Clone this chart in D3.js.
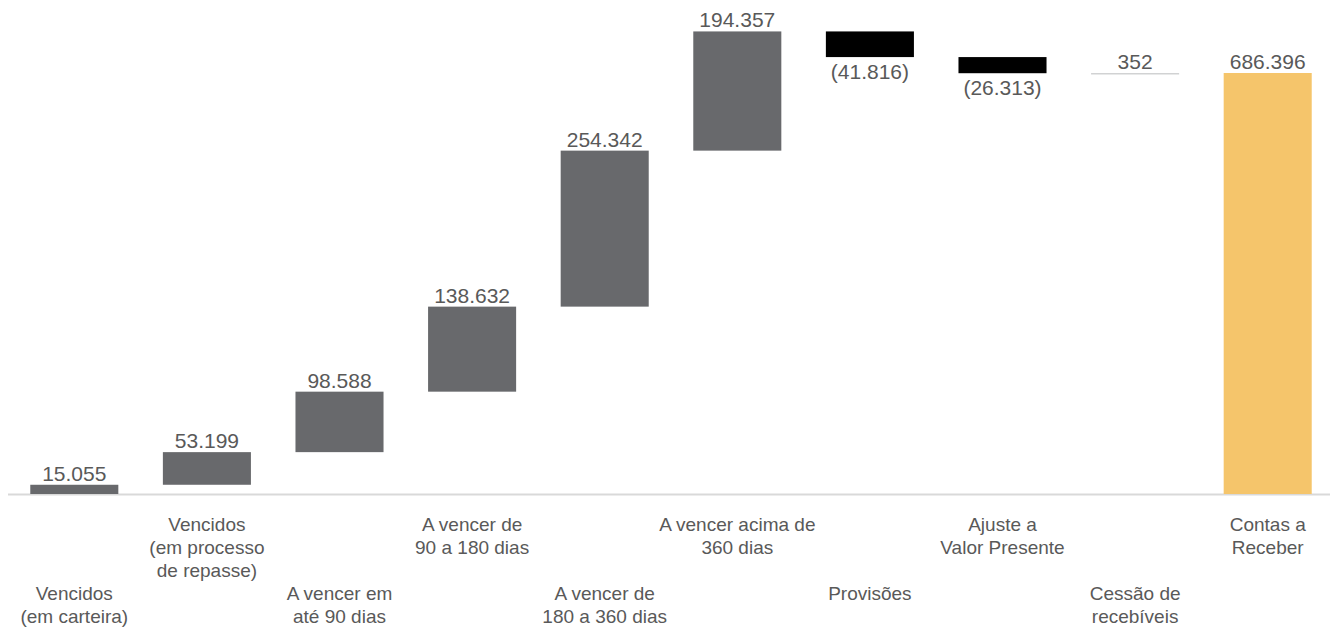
<!DOCTYPE html>
<html>
<head>
<meta charset="utf-8">
<script src="https://cdn.jsdelivr.net/npm/d3@7"></script>
<style>
  body { margin: 0; background: white; }
  text { font-family: "Liberation Sans", Arial, sans-serif; fill: #595959; }
</style>
</head>
<body>
<script>
var categories = [
  ["Vencidos", "(em carteira)"],
  ["Vencidos", "(em processo", "de repasse)"],
  ["A vencer em", "até 90 dias"],
  ["A vencer de", "90 a 180 dias"],
  ["A vencer de", "180 a 360 dias"],
  ["A vencer acima de", "360 dias"],
  ["Provisões"],
  ["Ajuste a", "Valor Presente"],
  ["Cessão de", "recebíveis"],
  ["Contas a", "Receber"]
];
var values = [15055, 53199, 98588, 138632, 254342, 194357, -41816, -26313, 352, 686396];
var valueLabels = ["15.055", "53.199", "98.588", "138.632", "254.342", "194.357", "(41.816)", "(26.313)", "352", "686.396"];
var isTotal = [false, false, false, false, false, false, false, false, false, true];

var width = 1334,
    height = 628,
    baseY = 494;

var svg = d3.select("body").append("svg")
  .attr("width", width)
  .attr("height", height);

// running totals for the waterfall
var running = 0;
var steps = values.map(function(v, i) {
  var start, end;
  if (isTotal[i]) { start = 0; end = v; running = v; }
  else { start = running; end = running + v; running = end; }
  return { i: i, v: v, y0: Math.min(start, end), y1: Math.max(start, end) };
});

var x = d3.scaleBand()
  .domain(d3.range(values.length))
  .range([8, 1334])
  .paddingInner(0.336)
  .paddingOuter(0.168);

var y = d3.scaleLinear()
  .domain([0, 686396])
  .range([baseY, 73]);

// axis line
svg.append("line")
  .attr("x1", 8).attr("x2", 1330)
  .attr("y1", baseY + 0.5).attr("y2", baseY + 0.5)
  .style("stroke", "#d9d9d9")
  .style("stroke-width", 2);

function barColor(d) {
  if (isTotal[d.i]) return "#f5c56b";
  return d.v < 0 ? "#000000" : "#68696c";
}

svg.append("g").selectAll("rect")
  .data(steps)
  .enter().append("rect")
  .attr("x", function(d) { return x(d.i); })
  .attr("width", x.bandwidth())
  .attr("y", function(d) { return y(d.y1); })
  .attr("height", function(d) { return Math.max(y(d.y0) - y(d.y1), 1.5); })
  .style("fill", barColor)
  .style("opacity", function(d) { return (y(d.y0) - y(d.y1)) < 1 ? 0.3 : 1; });

// value labels
svg.append("g").selectAll("text")
  .data(steps)
  .enter().append("text")
  .attr("x", function(d) { return x(d.i) + x.bandwidth() / 2; })
  .attr("y", function(d) { return d.v < 0 ? y(d.y0) + 22 : y(d.y1) - 4; })
  .attr("text-anchor", "middle")
  .style("font-size", "21px")
  .text(function(d) { return valueLabels[d.i]; });

// category labels, staggered in two rows
var cat = svg.append("g").selectAll("text")
  .data(categories)
  .enter().append("text")
  .attr("text-anchor", "middle")
  .attr("transform", function(d, i) {
    var ty = (i % 2 === 1) ? 531 : 600;
    return "translate(" + (x(i) + x.bandwidth() / 2) + "," + ty + ")";
  })
  .style("font-size", "19px");

cat.selectAll("tspan")
  .data(function(d) { return d; })
  .enter().append("tspan")
  .attr("x", 0)
  .attr("dy", function(d, j) { return j === 0 ? 0 : 23; })
  .text(function(d) { return d; });
</script>
</body>
</html>
